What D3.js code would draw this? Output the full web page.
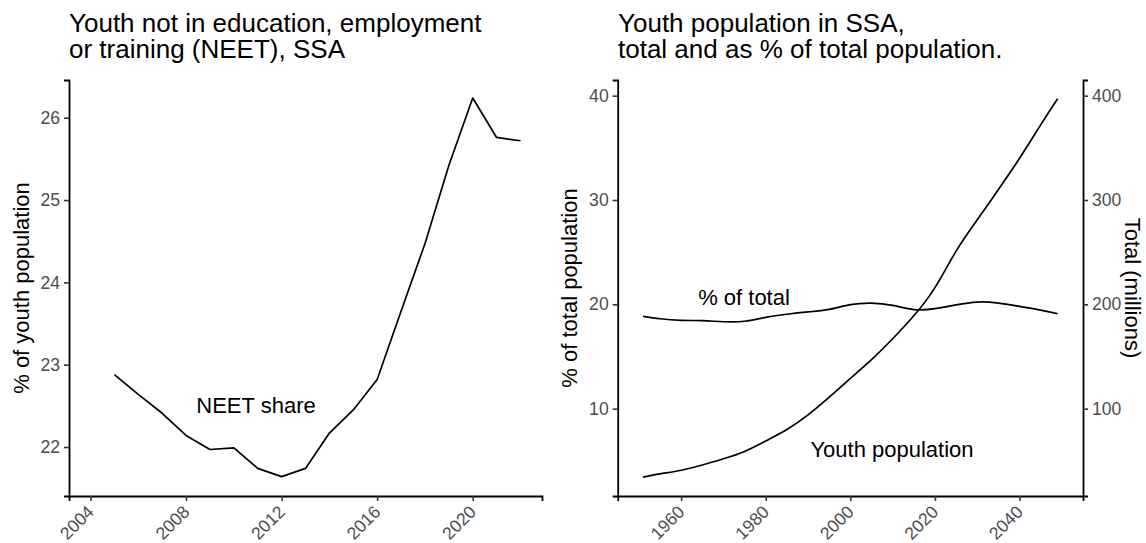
<!DOCTYPE html>
<html>
<head>
<meta charset="utf-8">
<script src="https://cdn.jsdelivr.net/npm/d3@7"></script>
<style>
  body { margin: 0; background: #fff; }
  svg text { font-family: "Liberation Sans", Arial, Helvetica, sans-serif; }
</style>
</head>
<body>
<svg id="chart" width="1146" height="543"></svg>
<script>
// NEET share of youth population, Sub-Saharan Africa
const neetYears = [2005, 2006, 2007, 2008, 2009, 2010, 2011, 2012, 2013, 2014, 2015, 2016, 2017, 2018, 2019, 2020, 2021, 2022];
const neetShare = [22.88, 22.64, 22.41, 22.14, 21.97, 21.99, 21.74, 21.64, 21.74, 22.17, 22.45, 22.82, 23.65, 24.47, 25.42, 26.24, 25.76, 25.72];
const neetXTicks = [2004, 2008, 2012, 2016, 2020];
const neetYTicks = [22, 23, 24, 25, 26];

// Youth population in SSA: share of total population (%) and total (millions)
const popYears = [1951, 1955, 1960, 1965, 1970, 1975, 1980, 1985, 1990, 1995, 2000, 2005, 2010, 2015, 2020, 2025, 2030, 2035, 2040, 2045, 2049];
const youthPctOfTotal = [18.85, 18.62, 18.47, 18.43, 18.33, 18.38, 18.75, 19.05, 19.27, 19.52, 19.97, 20.12, 19.9, 19.5, 19.58, 19.95, 20.22, 20.12, 19.8, 19.45, 19.1];
const youthPopMillions = [34.4, 37.5, 41, 46, 52, 59, 69, 80, 94, 111, 129, 147, 167, 189, 216, 251, 281, 310, 340, 372, 397];
const popXTicks = [1960, 1980, 2000, 2020, 2040];
const pctTicks = [10, 20, 30, 40];
const totalTicks = [100, 200, 300, 400];

const svg = d3.select("#chart");
const tickColor = "#333333";
const labelColor = "#4D4D4D";
const tickFont = 17.6;
const titleFont = 26;
const axisTitleFont = 22;
const lineWidth = 1.7;

function styleAxis(g) {
  g.select(".domain").attr("stroke", "#000").attr("stroke-width", 1.8);
  g.selectAll(".tick line").attr("stroke", tickColor).attr("stroke-width", 1.6);
  g.selectAll(".tick text").attr("fill", labelColor).attr("font-size", tickFont)
    .attr("font-family", "Liberation Sans, Arial, sans-serif");
}

function rotateXLabels(g) {
  g.selectAll(".tick text")
    .attr("text-anchor", "end")
    .attr("dy", null)
    .attr("y", null)
    .attr("transform", "translate(4,17) rotate(-45)");
}

function title(x, lines) {
  const t = svg.append("text").attr("x", x).attr("y", 31.5)
    .attr("font-size", titleFont).attr("fill", "#000");
  lines.forEach((s, i) => t.append("tspan").attr("x", x).attr("dy", i === 0 ? 0 : 26.5).text(s));
}

// ---------- Left panel: NEET share ----------
const L = { left: 69, right: 542, top: 80, bottom: 496 };
const xL = d3.scaleLinear().domain([2003.1, 2022.9]).range([L.left, L.right]);
const yL = d3.scaleLinear().domain([21.405, 26.458]).range([L.bottom, L.top]);

svg.append("g").attr("transform", `translate(0,${L.bottom})`)
  .call(d3.axisBottom(xL).tickValues(neetXTicks).tickFormat(d3.format("d")).tickSizeOuter(0).tickSize(5).tickPadding(4))
  .call(styleAxis).call(rotateXLabels);
svg.append("g").attr("transform", `translate(${L.left},0)`)
  .call(d3.axisLeft(yL).tickValues(neetYTicks).tickFormat(d3.format("d")).tickSizeOuter(0).tickSize(5).tickPadding(4))
  .call(styleAxis);

svg.append("path")
  .datum(neetYears.map((y, i) => [y, neetShare[i]]))
  .attr("fill", "none").attr("stroke", "#000").attr("stroke-width", lineWidth)
  .attr("stroke-linejoin", "round")
  .attr("d", d3.line().x(d => xL(d[0])).y(d => yL(d[1])));

svg.append("text").attr("x", 256).attr("y", 413).attr("text-anchor", "middle")
  .attr("font-size", 22).text("NEET share");

svg.append("text").attr("transform", `translate(28.5,${(L.top + L.bottom) / 2}) rotate(-90)`)
  .attr("text-anchor", "middle").attr("font-size", axisTitleFont).text("% of youth population");

title(69, ["Youth not in education, employment", "or training (NEET), SSA"]);

// ---------- Right panel: youth population ----------
const R = { left: 617.7, right: 1083, top: 80, bottom: 496 };
const xR = d3.scaleLinear().domain([1945, 2055]).range([R.left, R.right]);
const yPct = d3.scaleLinear().domain([1.63, 41.5]).range([R.bottom, R.top]);
const yTot = d3.scaleLinear().domain([16.3, 415]).range([R.bottom, R.top]);

svg.append("g").attr("transform", `translate(0,${R.bottom})`)
  .call(d3.axisBottom(xR).tickValues(popXTicks).tickFormat(d3.format("d")).tickSizeOuter(0).tickSize(5).tickPadding(4))
  .call(styleAxis).call(rotateXLabels);
svg.append("g").attr("transform", `translate(${R.left},0)`)
  .call(d3.axisLeft(yPct).tickValues(pctTicks).tickFormat(d3.format("d")).tickSizeOuter(0).tickSize(5).tickPadding(4))
  .call(styleAxis);
svg.append("g").attr("transform", `translate(${R.right},0)`)
  .call(d3.axisRight(yTot).tickValues(totalTicks).tickFormat(d3.format("d")).tickSizeOuter(0).tickSize(5).tickPadding(4))
  .call(styleAxis);

const smooth = d3.curveNatural;
svg.append("path")
  .datum(popYears.map((y, i) => [y, youthPctOfTotal[i]]))
  .attr("fill", "none").attr("stroke", "#000").attr("stroke-width", lineWidth)
  .attr("d", d3.line().curve(smooth).x(d => xR(d[0])).y(d => yPct(d[1])));
svg.append("path")
  .datum(popYears.map((y, i) => [y, youthPopMillions[i]]))
  .attr("fill", "none").attr("stroke", "#000").attr("stroke-width", lineWidth)
  .attr("d", d3.line().curve(smooth).x(d => xR(d[0])).y(d => yTot(d[1])));

svg.append("text").attr("x", 744).attr("y", 305).attr("text-anchor", "middle")
  .attr("font-size", 22).text("% of total");
svg.append("text").attr("x", 892).attr("y", 457).attr("text-anchor", "middle")
  .attr("font-size", 22).text("Youth population");

svg.append("text").attr("transform", `translate(576.5,${(R.top + R.bottom) / 2}) rotate(-90)`)
  .attr("text-anchor", "middle").attr("font-size", axisTitleFont).text("% of total population");
svg.append("text").attr("transform", `translate(1125,${(R.top + R.bottom) / 2}) rotate(90)`)
  .attr("text-anchor", "middle").attr("font-size", axisTitleFont).text("Total (millions)");

title(618, ["Youth population in SSA,", "total and as % of total population."]);
</script>
</body>
</html>
